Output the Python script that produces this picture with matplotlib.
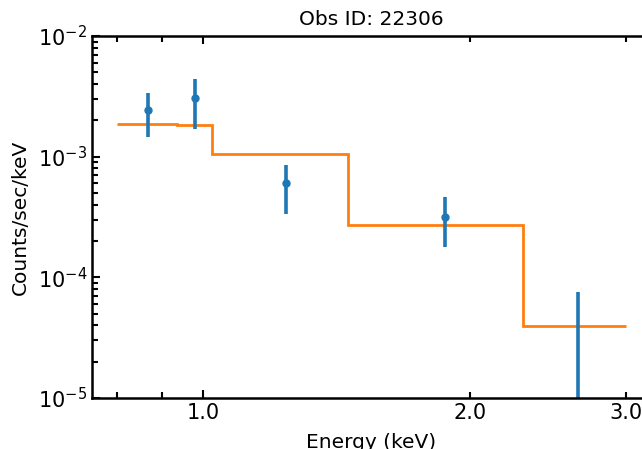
import numpy as np
import matplotlib
matplotlib.use('Agg')
import matplotlib.pyplot as plt
from matplotlib.ticker import FixedLocator, FixedFormatter, NullFormatter

# binned spectrum (keV) and model
bin_edges = [0.80, 0.935, 1.023, 1.459, 2.295, 3.0]
energy = [0.867, 0.979, 1.241, 1.877, 2.65]
rate = [2.43e-3, 3.06e-3, 6.04e-4, 3.16e-4, 0.0]
rate_lo = [1.45e-3, 1.69e-3, 3.34e-4, 1.78e-4, -7.5e-5]
rate_hi = [3.37e-3, 4.40e-3, 8.50e-4, 4.63e-4, 7.55e-5]
model = [1.86e-3, 1.82e-3, 1.045e-3, 2.71e-4, 3.95e-5]

rate = np.array(rate)
yerr = [rate - np.array(rate_lo), np.array(rate_hi) - rate]

plt.rcParams['font.size'] = 14.5

fig = plt.figure(figsize=(6.42, 4.49), dpi=100)
ax = fig.add_axes([92 / 642, 51 / 449, 559 / 642, 362 / 449])

ax.errorbar(energy, rate, yerr=yerr, fmt='o', color='tab:blue', ms=5, elinewidth=2.6)
ax.stairs(model, bin_edges, baseline=None, color='tab:orange', lw=2)

ax.set_xscale('log')
ax.set_yscale('log')
ax.set_xlim(0.75, 3.2)
ax.set_ylim(1e-5, 1e-2)

ax.xaxis.set_major_locator(FixedLocator([1.0]))
ax.xaxis.set_major_formatter(FixedFormatter(['1.0']))
ax.xaxis.set_minor_locator(FixedLocator([0.8, 0.9, 2.0, 3.0]))
ax.xaxis.set_minor_formatter(FixedFormatter(['', '', '2.0', '3.0']))
yminor = [m * 10.0 ** e for e in (-5, -4, -3) for m in range(2, 10)]
ax.yaxis.set_minor_locator(FixedLocator(yminor))
ax.yaxis.set_minor_formatter(NullFormatter())

ax.tick_params(which='both', direction='in', top=True, right=True, width=1.5, labelsize=15)
ax.tick_params(which='major', length=6)
ax.tick_params(which='minor', length=4)
for s in ax.spines.values():
    s.set_linewidth(1.8)

ax.set_title('Obs ID: 22306', fontsize=14.5, pad=8)
ax.set_xlabel('Energy (keV)', labelpad=7)
ax.set_ylabel('Counts/sec/keV', labelpad=6)

fig.savefig('out.png', dpi=100)
